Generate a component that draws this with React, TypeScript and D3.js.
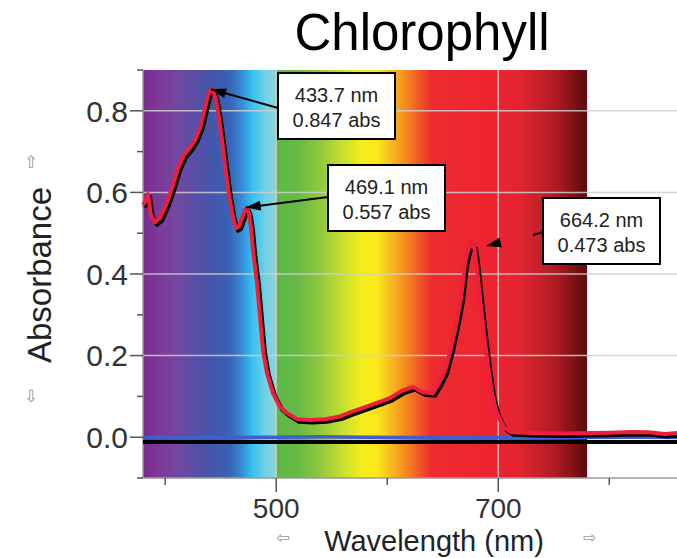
import React from 'react';
import * as d3 from 'd3';

// chlorophyll spectrum (red trace), black trace is its shadow
const wavelengths = [
  380, 382.7, 384.5, 387.2, 390.8, 395.3, 400.7, 406.1, 411.5, 416.9, 422.3, 426.8,
  431.4, 435.0, 438.6, 441.3, 443.1, 445.8, 448.5, 451.2, 453.9, 457.5, 461.1, 463.8,
  466.5, 469.2, 471.9, 473.7, 475.5, 477.3, 479.1, 482.7, 485.4, 488.1, 491.7, 497.1,
  503.4, 509.7, 518.7, 530.5, 544, 557.5, 566.5, 584.5, 602.5, 614.2, 623.2, 632,
  641.3, 645.8, 652.1, 657.5, 662, 666.5, 670.1, 672.8, 675.5, 678.2, 680.9, 683.6,
  687.2, 690.8, 694.4, 698, 701.6, 706.1, 712, 730, 760, 800, 820, 835, 850, 861,
];
const absorbance = [
  0.569, 0.581, 0.596, 0.544, 0.527, 0.537, 0.569, 0.61, 0.659, 0.692, 0.709, 0.728,
  0.758, 0.797, 0.839, 0.853, 0.851, 0.826, 0.782, 0.728, 0.667, 0.593, 0.537, 0.512,
  0.517, 0.537, 0.556, 0.561, 0.547, 0.512, 0.458, 0.377, 0.294, 0.213, 0.157, 0.108,
  0.074, 0.059, 0.044, 0.042, 0.044, 0.051, 0.061, 0.078, 0.096, 0.115, 0.123, 0.11,
  0.108, 0.128, 0.162, 0.218, 0.275, 0.341, 0.426, 0.458, 0.473, 0.468, 0.414, 0.341,
  0.255, 0.174, 0.108, 0.066, 0.042, 0.022, 0.012, 0.01, 0.009, 0.011, 0.013, 0.012,
  0.008, 0.01,
];

const blueNm = [380, 440, 500, 540, 580, 620, 660, 700, 760, 820, 861];
const blueAbs = [-0.001, -0.001, 0.0, 0.001, 0.0, -0.001, 0.0, -0.001, -0.001, 0.0, -0.001];

const baseNm = [380, 861];
const baseAbs = [-0.012, -0.012];

const yMajor = [0, 0.2, 0.4, 0.6, 0.8];
const yMinor = [-0.1, 0.1, 0.3, 0.5, 0.7, 0.9];
const xMajor = [500, 700];
const xMinor = [400, 600, 800];

const peakLines = [
  ['433.7 nm', '0.847 abs'],
  ['469.1 nm', '0.557 abs'],
  ['664.2 nm', '0.473 abs'],
];

const spectrumStops: [number, string][] = [
  [380, '#7a2b8f'], [395, '#7d3a98'], [410, '#7546a0'], [425, '#5b4ea6'],
  [440, '#4555aa'], [458, '#3a62b6'], [470, '#3590d8'], [478, '#33c0ef'],
  [490, '#6fd0e6'], [499.5, '#8ed4d8'], [500, '#5db748'], [520, '#66ba45'],
  [540, '#92c83d'], [560, '#c9df2e'], [578, '#f5ed1c'], [591, '#fbe81a'],
  [603, '#f8bb22'], [615, '#f5911e'], [628, '#f15a27'], [640, '#ee2b2f'],
  [700, '#ed2330'], [720, '#e02530'], [750, '#b31c24'], [780, '#5c0b0e'],
];

const font = '"Liberation Sans", Arial, sans-serif';

export default function App() {
  const width = 677;
  const height = 558;
  const x = d3.scaleLinear().domain([380, 861]).range([143, 677]);
  const y = d3.scaleLinear().domain([-0.1, 0.9]).range([478, 70]);

  const spectrum = wavelengths.map((w, i) => [w, absorbance[i]] as [number, number]);
  const line = d3.line<[number, number]>().x(d => x(d[0])).y(d => y(d[1]));
  const blue = blueNm.map((w, i) => [w, blueAbs[i]] as [number, number]);
  const base = baseNm.map((w, i) => [w, baseAbs[i]] as [number, number]);

  const x0 = x(380);
  const x1 = x(780);

  const boxes = [
    { bx: 278, by: 73, tip: [x(441.3), y(0.853)], from: [278, 108], full: true },
    { bx: 328, by: 165, tip: [x(472.5), y(0.563)], from: [328, 197], full: true },
    { bx: 543, by: 198, tip: [486, 246], from: [543, 232], full: false },
  ];

  const arrowHead = (tx: number, ty: number, fx: number, fy: number) => {
    const a = Math.atan2(ty - fy, tx - fx);
    const len = 15, half = 5;
    const bx = tx - len * Math.cos(a), by = ty - len * Math.sin(a);
    const px = -Math.sin(a) * half, py = Math.cos(a) * half;
    return `M${tx},${ty}L${bx + px},${by + py}L${bx - px},${by - py}Z`;
  };

  return (
    <svg width={width} height={height} style={{ position: 'absolute', left: 0, top: 0, background: '#fff' }}
      fontFamily={font}>
      <defs>
        <linearGradient id="spec" x1="0" x2="1" y1="0" y2="0">
          {spectrumStops.map(([w, c], i) => (
            <stop key={i} offset={(w - 380) / 400} stopColor={c} />
          ))}
        </linearGradient>
      </defs>

      <text x={422} y={50} textAnchor="middle" fontSize={51} fill="#000">Chlorophyll</text>

      <rect x={x0} y={y(0.9)} width={x1 - x0} height={y(-0.1) - y(0.9)} fill="url(#spec)" />

      {/* grid */}
      {yMajor.map(v => (
        <line key={'gy' + v} x1={x0} x2={width} y1={y(v)} y2={y(v)} stroke="#cfcfcf" strokeWidth={1.5} opacity={0.85} />
      ))}
      {xMajor.map(v => (
        <line key={'gx' + v} x1={x(v)} x2={x(v)} y1={y(0.9)} y2={y(-0.1)} stroke="#cfcfcf" strokeWidth={1.5} opacity={0.85} />
      ))}

      {/* axes */}
      <line x1={x0} x2={x0} y1={y(0.9)} y2={y(-0.1)} stroke="#9a9a9a" strokeWidth={1.5} />
      <line x1={x0} x2={width} y1={y(-0.1)} y2={y(-0.1)} stroke="#9a9a9a" strokeWidth={1.5} />
      {yMajor.map(v => (
        <g key={'ty' + v}>
          <line x1={x0 - 13} x2={x0} y1={y(v)} y2={y(v)} stroke="#555" strokeWidth={1.5} />
          <text x={x0 - 15} y={y(v)} dy="0.36em" textAnchor="end" fontSize={30} fill="#333">{d3.format('.1f')(v)}</text>
        </g>
      ))}
      {yMinor.map(v => (
        <line key={'my' + v} x1={x0 - 6} x2={x0} y1={y(v)} y2={y(v)} stroke="#555" strokeWidth={1.5} />
      ))}
      {xMajor.map(v => (
        <g key={'tx' + v}>
          <line x1={x(v)} x2={x(v)} y1={y(-0.1)} y2={y(-0.1) + 14} stroke="#555" strokeWidth={1.5} />
          <text x={x(v)} y={518} textAnchor="middle" fontSize={28} fill="#333">{v}</text>
        </g>
      ))}
      {xMinor.map(v => (
        <line key={'mx' + v} x1={x(v)} x2={x(v)} y1={y(-0.1)} y2={y(-0.1) + 7} stroke="#555" strokeWidth={1.5} />
      ))}

      {/* axis titles */}
      <text transform="translate(51,275) rotate(-90)" textAnchor="middle" fontSize={33} fill="#222">Absorbance</text>
      <text x={31} y={168} textAnchor="middle" fontSize={17} fill="#999" fontFamily="DejaVu Sans">⇧</text>
      <text x={31} y={402} textAnchor="middle" fontSize={17} fill="#999" fontFamily="DejaVu Sans">⇩</text>
      <text x={434} y={551} textAnchor="middle" fontSize={29} fill="#222">Wavelength (nm)</text>
      <text x={283} y={543} textAnchor="middle" fontSize={16} fill="#999" fontFamily="DejaVu Sans">⇦</text>
      <text x={590} y={543} textAnchor="middle" fontSize={16} fill="#999" fontFamily="DejaVu Sans">⇨</text>

      {/* traces */}
      <path d={line(base) || ''} fill="none" stroke="#000" strokeWidth={4} />
      <path d={line(blue) || ''} fill="none" stroke="#3d5fd0" strokeWidth={3.5} />
      <path d={line(spectrum) || ''} fill="none" stroke="#000" strokeWidth={4} transform="translate(2,2.5)" strokeLinejoin="round" />
      <path d={line(spectrum) || ''} fill="none" stroke="#ee1e3c" strokeWidth={4} strokeLinejoin="round" />

      {/* peak annotations */}
      {boxes.map((b, i) => (
        <g key={'box' + i}>
          {b.full ? (
            <line x1={b.from[0]} y1={b.from[1]} x2={b.tip[0]} y2={b.tip[1]} stroke="#000" strokeWidth={2} />
          ) : (
            <line x1={b.from[0]} y1={b.from[1]} x2={b.from[0] - 10} y2={b.from[1] + 3} stroke="#000" strokeWidth={2} />
          )}
          <path d={arrowHead(b.tip[0], b.tip[1], b.from[0], b.from[1])} fill="#000" />
          <rect x={b.bx} y={b.by} width={117} height={66} fill="#fff" stroke="#000" strokeWidth={2} />
          <text x={b.bx + 58.5} y={b.by + 29} textAnchor="middle" fontSize={20} fill="#222">{peakLines[i][0]}</text>
          <text x={b.bx + 58.5} y={b.by + 54} textAnchor="middle" fontSize={20} fill="#222">{peakLines[i][1]}</text>
        </g>
      ))}
    </svg>
  );
}
